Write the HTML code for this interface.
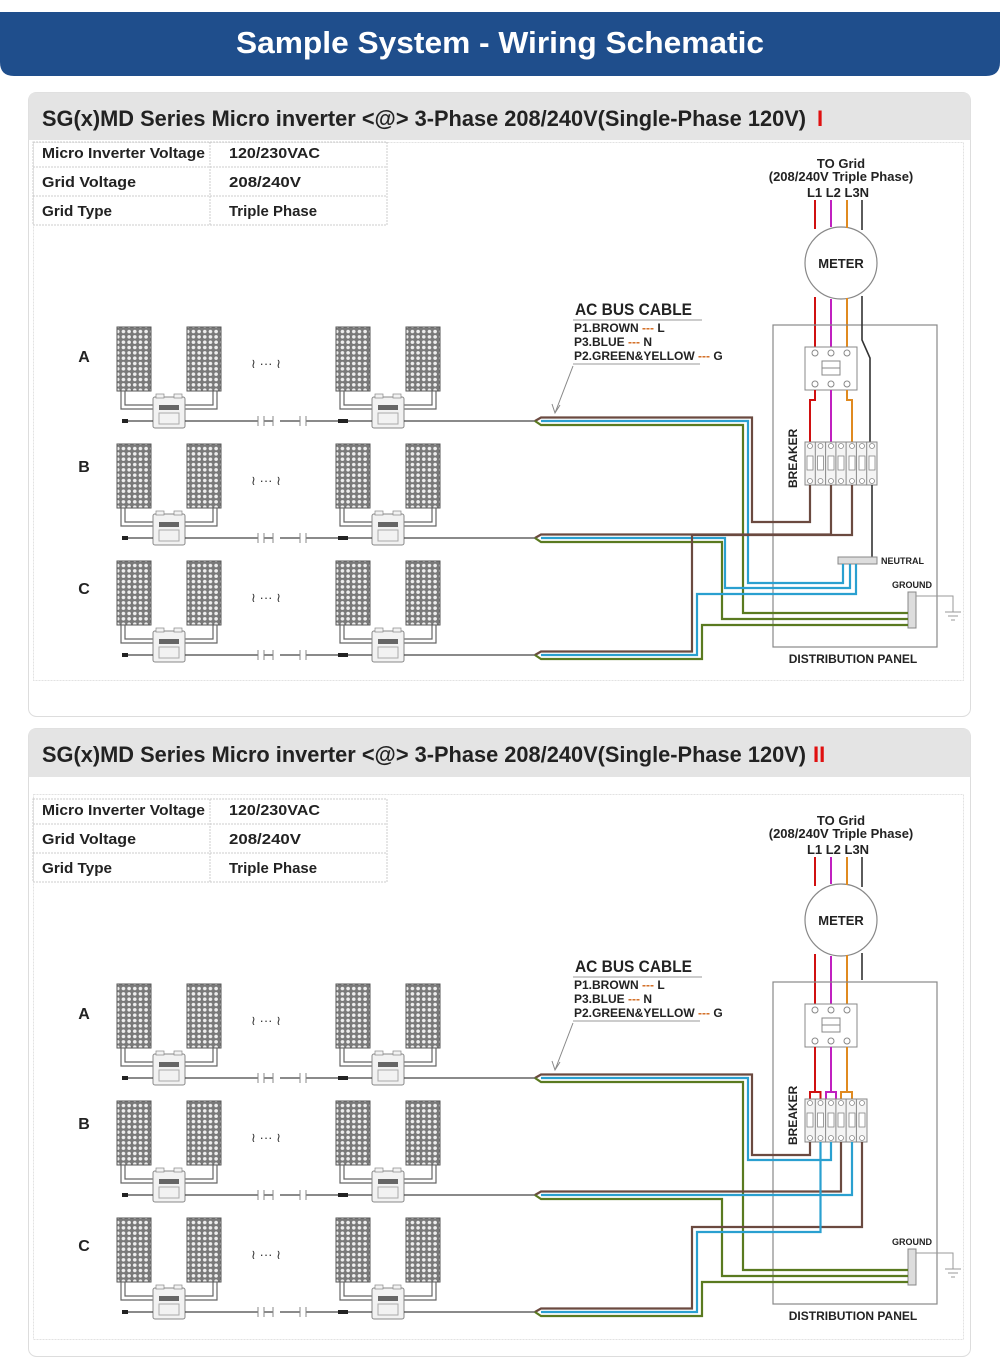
<!DOCTYPE html>
<html><head><meta charset="utf-8"><style>
html,body{margin:0;padding:0;background:#fff}
svg{display:block}
text{font-family:"Liberation Sans",sans-serif}
</style></head><body>
<svg width="1000" height="1367" viewBox="0 0 1000 1367" xmlns="http://www.w3.org/2000/svg">
<defs>
<pattern id="cells" x="117" y="327" width="5.67" height="5.33" patternUnits="userSpaceOnUse">
<rect width="5.67" height="5.33" fill="#7a7a7a"/>
<circle cx="2.83" cy="2.67" r="2.1" fill="#eee" stroke="#555" stroke-width="0.4"/>
</pattern>
<g id="pv">
<rect x="0" y="0" width="34" height="64" fill="url(#cells)" stroke="#555" stroke-width="1"/>
</g>
<g id="inv">
<rect x="0" y="0" width="32" height="31" rx="2" fill="#f2f2f2" stroke="#888"/>
<rect x="3" y="-3" width="8" height="4" fill="#f2f2f2" stroke="#888" stroke-width="0.7"/>
<rect x="21" y="-3" width="8" height="4" fill="#f2f2f2" stroke="#888" stroke-width="0.7"/>
<rect x="6" y="8" width="20" height="5" fill="#666"/>
<rect x="6" y="16" width="20" height="11" fill="none" stroke="#aaa"/>
</g>
<g id="pair">
<use href="#pv" x="0" y="0"/>
<use href="#pv" x="70" y="0"/>
<path d="M4 64 V82 H36 M8 64 V78 H36 M66 78 H96 V64 M66 82 H100 V64" fill="none" stroke="#666" stroke-width="1.2"/>
<use href="#inv" x="36" y="70"/>
</g>
<g id="row">
<use href="#pair" x="117" y="0"/>
<use href="#pair" x="336" y="0"/>
<path d="M124 94 H153 M185 94 H258 M264 94 H273 M280 94 H300 M306 94 H372 M404 94 H535" stroke="#444" stroke-width="1.2" fill="none"/>
<path d="M258 89 V99 M264 89 V99 M273 89 V99 M300 89 V99 M306 89 V99" stroke="#888" stroke-width="1"/>
<rect x="122" y="92" width="6" height="4" fill="#222"/>
<rect x="338" y="92" width="10" height="4" fill="#222"/>
<text x="266" y="41" font-size="13" text-anchor="middle" fill="#333">≀ ··· ≀</text>
</g>
<g id="rowlabels">
<text x="84" y="362" font-size="16" font-weight="bold" text-anchor="middle" fill="#222">A</text>
<text x="84" y="472" font-size="16" font-weight="bold" text-anchor="middle" fill="#222">B</text>
<text x="84" y="594" font-size="16" font-weight="bold" text-anchor="middle" fill="#222">C</text>
</g>
<g id="common">
<!-- table -->
<g stroke="#ccc" stroke-width="1" stroke-dasharray="2 1" fill="none">
<rect x="33" y="142" width="354" height="83"/>
<path d="M33 167 H387 M33 196 H387 M210 142 V225"/>
</g>
<g font-size="15" fill="#222" font-weight="bold">
<text x="42" y="158" textLength="163" lengthAdjust="spacingAndGlyphs">Micro Inverter Voltage</text>
<text x="229" y="158" textLength="91" lengthAdjust="spacingAndGlyphs">120/230VAC</text>
<text x="42" y="187" textLength="94" lengthAdjust="spacingAndGlyphs">Grid  Voltage</text>
<text x="229" y="187" textLength="72" lengthAdjust="spacingAndGlyphs">208/240V</text>
<text x="42" y="216" textLength="70" lengthAdjust="spacingAndGlyphs">Grid Type</text>
<text x="229" y="216" textLength="88" lengthAdjust="spacingAndGlyphs">Triple Phase</text>
</g>
<use href="#rowlabels"/>
<use href="#row" y="327"/>
<use href="#row" y="444"/>
<use href="#row" y="561"/>
<!-- AC bus label -->
<text x="575" y="315" font-size="17" font-weight="bold" fill="#222" textLength="117" lengthAdjust="spacingAndGlyphs">AC BUS CABLE</text>
<path d="M573 320 H702" stroke="#999" stroke-width="1"/>
<g font-size="12" font-weight="bold" fill="#222">
<text x="574" y="332">P1.BROWN <tspan fill="#d2691e">---</tspan> L</text>
<text x="574" y="346">P3.BLUE <tspan fill="#d2691e">---</tspan> N</text>
<text x="574" y="360">P2.GREEN&amp;YELLOW <tspan fill="#d2691e">---</tspan> G</text>
</g>
<path d="M573 364 H700" stroke="#999" stroke-width="1"/>
<path d="M573 366 L555 413 M552 404 L555 413 L560 405" stroke="#888" fill="none" stroke-width="1"/>
<!-- grid top -->
<text x="841" y="168" font-size="13" font-weight="bold" text-anchor="middle" fill="#222">TO Grid</text>
<text x="841" y="181" font-size="13" font-weight="bold" text-anchor="middle" fill="#222">(208/240V Triple Phase)</text>
<text x="838" y="197" font-size="13" font-weight="bold" text-anchor="middle" fill="#222">L1 L2 L3N</text>
<circle cx="841" cy="263" r="36" fill="#fff" stroke="#888" stroke-width="1.2"/>
<text x="841" y="268" font-size="13" font-weight="bold" text-anchor="middle" fill="#222">METER</text>
<path d="M815 200 V229 M815 297 V349" stroke="#d01010" stroke-width="2"/>
<path d="M831 200 V227 M831 299 V349" stroke="#c020c0" stroke-width="2"/>
<path d="M847 200 V228 M847 298 V349" stroke="#e08a20" stroke-width="2"/>
<rect x="773" y="325" width="164" height="322" fill="none" stroke="#888" stroke-width="1.2"/>
<text x="853" y="663" font-size="12" font-weight="bold" text-anchor="middle" fill="#222">DISTRIBUTION PANEL</text>
<!-- contactor -->
<rect x="805" y="347" width="52" height="43" fill="#fff" stroke="#888"/>
<rect x="822" y="361" width="18" height="14" fill="none" stroke="#888"/>
<path d="M822 368 H840" stroke="#888"/>
<g fill="#fff" stroke="#888"><circle cx="815" cy="353" r="3"/><circle cx="831" cy="353" r="3"/><circle cx="847" cy="353" r="3"/><circle cx="815" cy="384" r="3"/><circle cx="831" cy="384" r="3"/><circle cx="847" cy="384" r="3"/></g>
<text transform="translate(797 488) rotate(-90)" font-size="12" font-weight="bold" fill="#222">BREAKER</text>
<!-- ground -->
<text x="912" y="588" font-size="9" font-weight="bold" text-anchor="middle" fill="#222">GROUND</text>
<rect x="908" y="592" width="8" height="36" fill="#ddd" stroke="#888"/>
<path d="M916 596 H953 V612 M945 612 H961 M948 616 H958 M951 620 H955" stroke="#999" fill="none"/>
</g>
</defs>

<!-- header -->
<path d="M0 12 H1000 V62 Q1000 76 986 76 H14 Q0 76 0 62 Z" fill="#1f4e8c"/>
<text x="500" y="53" font-size="31" font-weight="bold" text-anchor="middle" fill="#fff" textLength="528" lengthAdjust="spacingAndGlyphs">Sample System - Wiring Schematic</text>

<!-- section 1 -->
<rect x="28.5" y="92.5" width="942" height="624" rx="8" fill="#fff" stroke="#ddd"/>
<path d="M28.5 140 V100 Q28.5 92.5 36 92.5 H963 Q970.5 92.5 970.5 100 V140 Z" fill="#e4e4e4"/>
<text x="42" y="126" font-size="22" font-weight="bold" fill="#222" textLength="764" lengthAdjust="spacingAndGlyphs">SG(x)MD Series Micro inverter &lt;@&gt; 3-Phase 208/240V(Single-Phase 120V)</text>
<text x="817" y="126" font-size="22" font-weight="bold" fill="#e01010" font-family="Liberation Serif">I</text>
<rect x="33.5" y="142.5" width="930" height="538" fill="none" stroke="#e2e2e2" stroke-dasharray="2 1"/>
<use href="#common"/>
<!-- section1 specific -->
<path d="M862 200 V230 M862 296 V340 L870 358 V442" stroke="#333" stroke-width="1.6" fill="none"/>
<path d="M815 390 V400 H810 V442 M847 390 V400 H852 V442 M831 390 V442" fill="none" stroke-width="2" stroke="#d01010"/>
<path d="M831 390 V442" stroke="#c020c0" stroke-width="2"/>
<path d="M847 390 V400 H852 V442" stroke="#e08a20" stroke-width="2" fill="none"/>
<g>
<rect x="805" y="442" width="72" height="43" fill="#f4f4f4" stroke="#888"/>
<g stroke="#888" fill="none"><path d="M815.3 442 V485 M825.6 442 V485 M835.9 442 V485 M846.1 442 V485 M856.4 442 V485 M866.7 442 V485"/></g>
<g fill="#fff" stroke="#888" stroke-width="0.8">
<circle cx="810" cy="446" r="2.5"/><circle cx="820.5" cy="446" r="2.5"/><circle cx="831" cy="446" r="2.5"/><circle cx="841" cy="446" r="2.5"/><circle cx="852" cy="446" r="2.5"/><circle cx="862" cy="446" r="2.5"/><circle cx="872" cy="446" r="2.5"/>
<circle cx="810" cy="481" r="2.5"/><circle cx="820.5" cy="481" r="2.5"/><circle cx="831" cy="481" r="2.5"/><circle cx="841" cy="481" r="2.5"/><circle cx="852" cy="481" r="2.5"/><circle cx="862" cy="481" r="2.5"/><circle cx="872" cy="481" r="2.5"/>
<rect x="807" y="456" width="6" height="14"/><rect x="817.5" y="456" width="6" height="14"/><rect x="828" y="456" width="6" height="14"/><rect x="838" y="456" width="6" height="14"/><rect x="849" y="456" width="6" height="14"/><rect x="859" y="456" width="6" height="14"/><rect x="869" y="456" width="6" height="14"/>
</g>
</g>
<path d="M872 485 V558" stroke="#333" stroke-width="1.6"/>
<rect x="838" y="557" width="39" height="7" fill="#ddd" stroke="#888"/>
<text x="881" y="564" font-size="9" font-weight="bold" fill="#222">NEUTRAL</text>
<g fill="none" stroke-width="2.2">
<!-- A -->
<path d="M535 421 L541 417.5 H752 V522 H810 V485" stroke="#6b4a40"/>
<path d="M541 421 H748 V583 H843 V564" stroke="#2aa0d0"/>
<path d="M535 421 L541 425 H743 V613 H908" stroke="#5a7a20"/>
<!-- B -->
<path d="M535 538 L541 534.5 H831 V485" stroke="#6b4a40"/>
<path d="M541 538 H725 V588 H850 V564" stroke="#2aa0d0"/>
<path d="M535 538 L541 542 H722 V619 H908" stroke="#5a7a20"/>
<!-- C -->
<path d="M535 655 L541 651.5 H692 V535 H852 V485" stroke="#6b4a40"/>
<path d="M541 655 H697 V594 H856 V564" stroke="#2aa0d0"/>
<path d="M535 655 L541 659 H702 V625 H908" stroke="#5a7a20"/>
</g>

<!-- section 2 -->
<rect x="28.5" y="728.5" width="942" height="628" rx="8" fill="#fff" stroke="#ddd"/>
<path d="M28.5 777 V736 Q28.5 728.5 36 728.5 H963 Q970.5 728.5 970.5 736 V777 Z" fill="#e4e4e4"/>
<text x="42" y="762" font-size="22" font-weight="bold" fill="#222" textLength="764" lengthAdjust="spacingAndGlyphs">SG(x)MD Series Micro inverter &lt;@&gt; 3-Phase 208/240V(Single-Phase 120V)</text>
<text x="813" y="762" font-size="22" font-weight="bold" fill="#e01010" font-family="Liberation Serif">II</text>
<rect x="33.5" y="794.5" width="930" height="545" fill="none" stroke="#e2e2e2" stroke-dasharray="2 1"/>
<g transform="translate(0 657)">
<use href="#common"/>
<path d="M862 200 V230 M862 296 V323" stroke="#333" stroke-width="1.6" fill="none"/>
<path d="M815 390 V435 H810 V442 M815 435 H820.5 V442" fill="none" stroke-width="2" stroke="#d01010"/>
<path d="M831 390 V435 H826 V442 M831 435 H836 V442" fill="none" stroke-width="2" stroke="#c020c0"/>
<path d="M847 390 V435 H841 V442 M847 435 H852 V442" fill="none" stroke-width="2" stroke="#e08a20"/>
<rect x="805" y="442" width="62" height="43" fill="#f4f4f4" stroke="#888"/>
<g stroke="#888" fill="none"><path d="M815.3 442 V485 M825.6 442 V485 M835.9 442 V485 M846.1 442 V485 M856.4 442 V485"/></g>
<g fill="#fff" stroke="#888" stroke-width="0.8">
<circle cx="810" cy="446" r="2.5"/><circle cx="820.5" cy="446" r="2.5"/><circle cx="831" cy="446" r="2.5"/><circle cx="841" cy="446" r="2.5"/><circle cx="852" cy="446" r="2.5"/><circle cx="862" cy="446" r="2.5"/>
<circle cx="810" cy="481" r="2.5"/><circle cx="820.5" cy="481" r="2.5"/><circle cx="831" cy="481" r="2.5"/><circle cx="841" cy="481" r="2.5"/><circle cx="852" cy="481" r="2.5"/><circle cx="862" cy="481" r="2.5"/>
<rect x="807" y="456" width="6" height="14"/><rect x="817.5" y="456" width="6" height="14"/><rect x="828" y="456" width="6" height="14"/><rect x="838" y="456" width="6" height="14"/><rect x="849" y="456" width="6" height="14"/><rect x="859" y="456" width="6" height="14"/>
</g>
<g fill="none" stroke-width="2.2">
<path d="M535 421 L541 417.5 H752 V498 H810 V485" stroke="#6b4a40"/>
<path d="M541 421 H748 V503 H831 V485" stroke="#2aa0d0"/>
<path d="M535 421 L541 425 H743 V613 H908" stroke="#5a7a20"/>
<path d="M535 538 L541 534.5 H841 V485" stroke="#6b4a40"/>
<path d="M541 538 H852 V485" stroke="#2aa0d0"/>
<path d="M535 538 L541 542 H722 V619 H908" stroke="#5a7a20"/>
<path d="M535 655 L541 651.5 H692 V570 H862 V485" stroke="#6b4a40"/>
<path d="M541 655 H697 V575 H820.5 V485" stroke="#2aa0d0"/>
<path d="M535 655 L541 659 H702 V625 H908" stroke="#5a7a20"/>
</g>
</g>
</svg>
</body></html>
